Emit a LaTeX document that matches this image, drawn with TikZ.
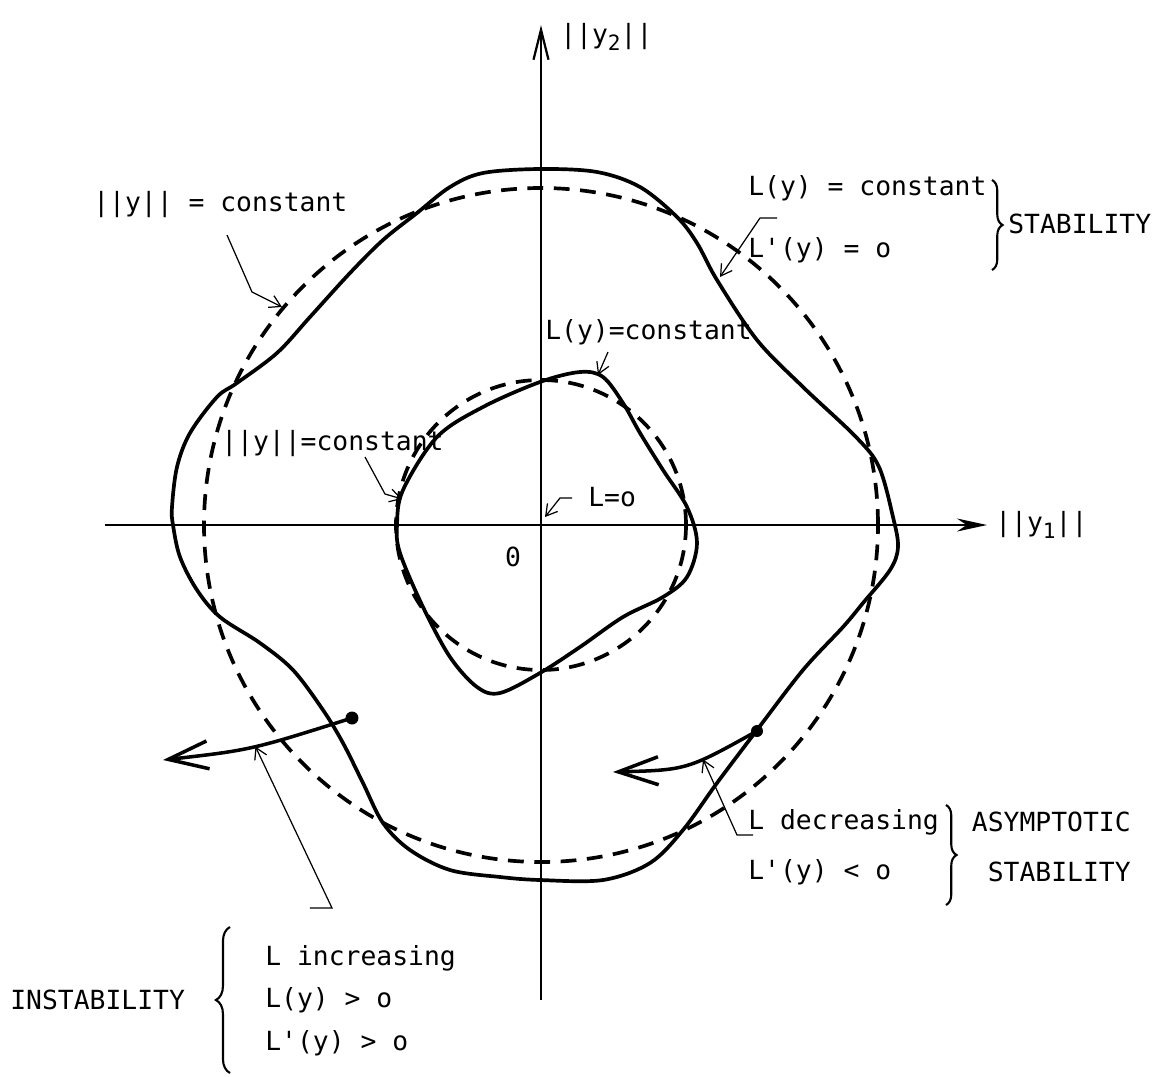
\documentclass[tikz,border=0pt]{standalone}
\usepackage{fontspec}
\setmainfont{DejaVu Sans Mono}
\usetikzlibrary{arrows.meta,decorations.pathreplacing}
\newcommand{\idx}[1]{\raisebox{-0.45ex}{\fontsize{12}{12}\selectfont #1}}

\begin{document}
\begin{tikzpicture}[
		font=\fontsize{15}{18}\selectfont,
		curve/.style={line width=2.1pt, line join=round},
		level/.style={line width=2.1pt, dash pattern=on 9pt off 6pt},
		axis/.style={line width=1.3pt},
		pointer/.style={line width=0.7pt, -{Straight Barb[length=2.2mm,width=2.6mm]}},
		flow/.style={line width=2pt, -{Straight Barb[length=8mm,width=5.6mm]}},
		lbl/.style={anchor=west, inner sep=0pt},
		bracket/.style={line width=1.2pt, decorate, decoration={brace, amplitude=#1}},
	]
		\useasboundingbox (-10.82,-11.02) rectangle (12.5,10.5);
		
		% Axes
		\coordinate (xl) at (-8.72,0);
		\coordinate (xr) at (8.92,0);
		\coordinate (yb) at (0,-9.5);
		\coordinate (yt) at (0,10.0);
		\draw[axis, -{Stealth[length=6mm,width=2.6mm]}] (xl) -- (xr);
		\draw[axis, -{Straight Barb[length=6mm,width=3mm]}] (yb) -- (yt);
		\node[lbl] (ya) at (9.08,0) {||y\idx{1}||};
		\node[lbl] (yb2) at (0.38,9.76) {||y\idx{2}||};
		\node (orig) at (-0.56,-0.64) {0};
		
		% ||y|| = constant
		\draw[level] (0,0) circle (6.74);
		\draw[level] (0,0) circle (2.9);
		
		% L(y) = constant
		\draw[curve] plot[smooth cycle, tension=0.55] coordinates {
			(-0.02,7.12) (-1.16,7.04) (-1.82,6.76) (-2.48,6.24) (-3.16,5.70)
			(-3.82,5.04) (-4.62,4.16) (-5.28,3.44) (-6.08,2.84) (-6.48,2.56)
			(-7.02,1.84) (-7.28,1.16) (-7.38,0.36) (-7.36,0) (-7.22,-0.64)
			(-6.88,-1.30) (-6.42,-1.84) (-5.62,-2.36) (-4.96,-2.90) (-4.36,-3.70)
			(-3.96,-4.36) (-3.56,-5.16) (-3.16,-5.96) (-2.62,-6.50) (-1.82,-6.90)
			(-0.82,-7.04) (-0.02,-7.10) (1.24,-7.10) (2.18,-6.76) (2.84,-6.10)
			(3.52,-5.16) (4.32,-4.10) (5.24,-2.90) (6.04,-2.04) (6.44,-1.56)
			(6.98,-0.90) (7.14,-0.44) (7.04,0.16) (6.76,1.16) (6.30,1.76)
			(5.24,2.76) (4.32,3.70) (3.52,4.90) (3.12,5.64) (2.72,6.16)
			(1.98,6.76) (1.12,7.06)};
		\draw[curve] plot[smooth cycle, tension=0.55] coordinates {
			(-0.02,2.86) (0.78,3.06) (1.24,2.96) (1.64,2.44) (1.98,1.84)
			(2.44,1.10) (2.92,0.36) (3.12,-0.36) (2.92,-1.04) (2.44,-1.44)
			(1.64,-1.84) (0.78,-2.44) (-0.02,-2.96) (-0.82,-3.36) (-1.28,-3.24)
			(-1.82,-2.64) (-2.36,-1.64) (-2.82,-0.56) (-2.88,0) (-2.76,0.70)
			(-2.08,1.76) (-1.16,2.36)};
		
		% Trajectories
		\coordinate (dotI) at (-3.78,-3.86);
		\coordinate (endI) at (-7.56,-4.70);
		\coordinate (dotA) at (4.32,-4.12);
		\coordinate (endA) at (1.44,-4.94);
		\draw[flow] (dotI) .. controls (-5.8,-4.5) .. (endI) coordinate[pos=0.48] (hitI);
		\draw[flow] (dotA) .. controls (2.92,-4.9) .. (endA) coordinate[pos=0.35] (hitA);
		\fill (dotI) circle (0.13);
		\fill (dotA) circle (0.12);
		
		% Labels
		\node[lbl] (normout) at (-8.96,6.4) {||y|| = constant};
		\node[lbl] (lyout) at (4.14,6.74) {L(y) = constant};
		\node[lbl] (ldout) at (4.14,5.5) {L\textquotesingle(y) = o};
		\node[lbl] (stab) at (9.34,6.02) {STABILITY};
		\node[lbl] (lyin) at (0.08,3.86) {L(y)=constant};
		\node[lbl] (normin) at (-6.4,1.62) {||y||=constant};
		\node[lbl] (lzero) at (0.94,0.56) {L=o};
		\node[lbl] (ldec) at (4.14,-5.94) {L decreasing};
		\node[lbl] (ldneg) at (4.14,-6.94) {L\textquotesingle(y) < o};
		\node[anchor=east, inner sep=0pt] (asym) at (11.8,-5.94) {ASYMPTOTIC};
		\node[anchor=east, inner sep=0pt] (stab2) at (11.8,-6.94) {STABILITY};
		\node[lbl] (instab) at (-10.62,-9.5) {INSTABILITY};
		\node[lbl] (linc) at (-5.52,-8.66) {L increasing};
		\node[lbl] (lpos) at (-5.52,-9.5) {L(y) > o};
		\node[lbl] (ldpos) at (-5.52,-10.36) {L\textquotesingle(y) > o};
		
		% Braces
		\draw[bracket=6pt] (9.02,6.9) -- (9.02,5.1);
		\draw[bracket=6pt] (8.1,-5.6) -- (8.1,-7.6);
		\draw[bracket=8pt] (-6.22,-10.96) -- (-6.22,-8.04);
		
		% Pointers
		\draw[pointer] (-6.28,5.8) -- (-5.78,4.66) -- (-5.18,4.36);
		\draw[pointer] (4.72,6.14) -- (4.38,6.14) -- (3.58,4.96);
		\draw[pointer] (1.34,3.46) -- (1.14,3.0);
		\draw[pointer] (-3.52,1.36) -- (-3.12,0.62) -- (-2.78,0.52);
		\draw[pointer] (0.62,0.54) -- (0.38,0.54) -- (0.08,0.16);
		\draw[pointer] (-4.62,-7.66) -- (-4.18,-7.66) -- (hitI);
		\draw[pointer] (4.24,-6.2) -- (3.92,-6.2) -- (hitA);
	\end{tikzpicture}
\end{document}
